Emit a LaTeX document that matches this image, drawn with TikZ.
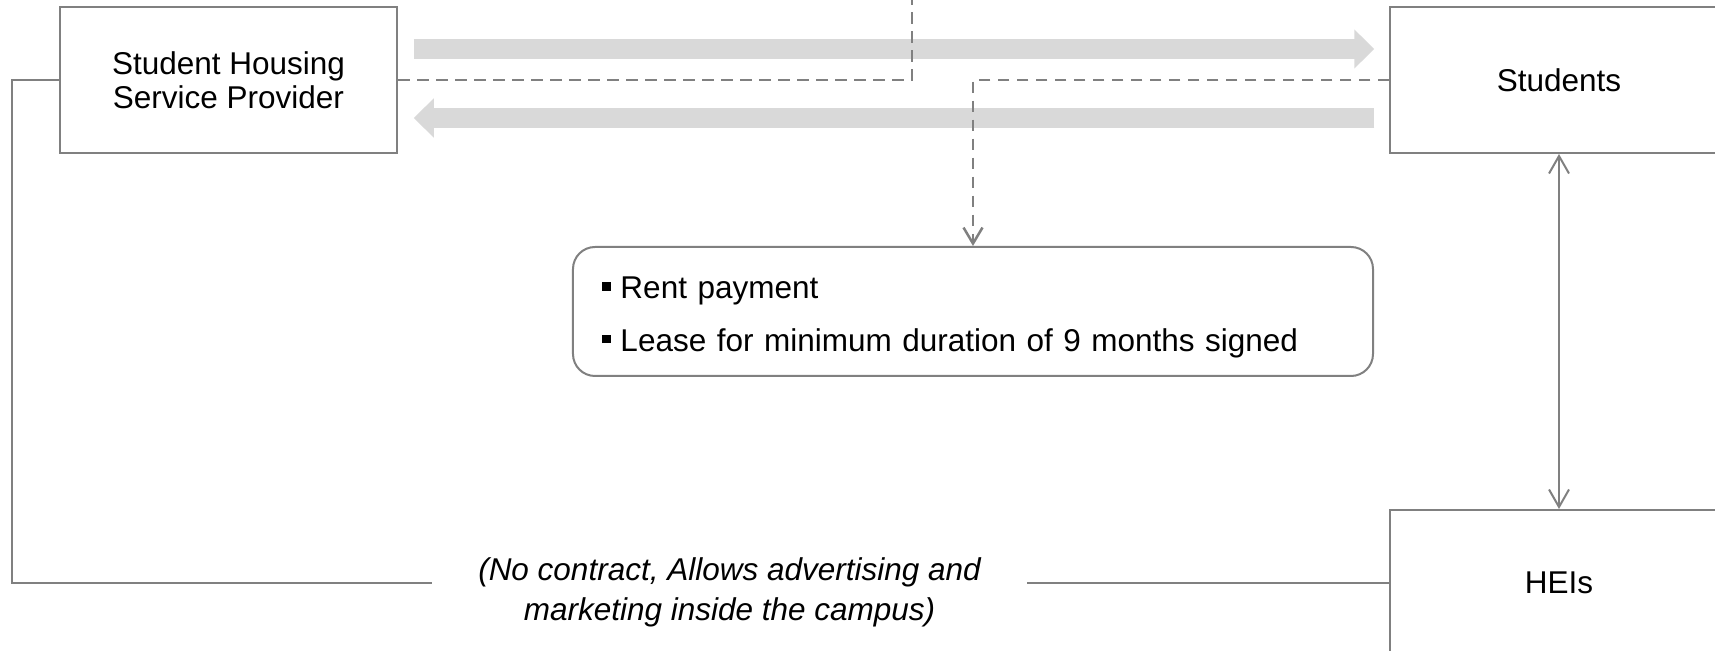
\documentclass[tikz,border=0pt]{standalone}
\usepackage{fontspec}
\setmainfont{Liberation Sans}
\usetikzlibrary{positioning,arrows.meta}

\newcommand{\bulsq}{\rule[3.2pt]{3.4pt}{3.4pt}\hspace{4pt}}

\begin{document}
\begin{tikzpicture}[
  x=0.4pt, y=-0.4pt,
  font=\fontsize{12.6}{13.6}\selectfont,
  party/.style={draw=gray, line width=0.8pt, align=center,
                minimum width=135pt, minimum height=58.4pt},
  flow/.style={draw=gray!30, line width=8pt,
               -{Triangle[length=8pt,width=15.2pt]}},
  link/.style={draw=gray, line width=1pt, dash pattern=on 4.6pt off 3pt},
  tie/.style={draw=gray, line width=0.8pt},
  barb/.tip={Straight Barb[length=7pt,width=8pt]}
]
\useasboundingbox (0,0) rectangle (1715,651);

\node[party] (shsp) at (228.5,80) {Student Housing\\Service Provider};
\node[party, right=396.4pt of shsp] (students) {Students};
\node[party, below=142pt of students] (heis) {HEIs};
\node[draw=gray, line width=0.8pt, rounded corners=8.8pt, align=left,
      text width=296.8pt, inner xsep=11.6pt, minimum height=51.6pt]
  (rent) at (973,311.5)
  {\rule{0pt}{13.4pt}\bulsq Rent payment\\[7.3pt]\bulsq Lease for minimum duration of 9 months signed};

% rent and lease flows
\draw[flow] ([xshift=6.2pt,yshift=12.4pt]shsp.east)
  -- ([xshift=-6pt,yshift=12.4pt]students.west);
\draw[flow] ([xshift=-6pt,yshift=-15.2pt]students.west)
  -- ([xshift=6.2pt,yshift=-15.2pt]shsp.east);

\coordinate (top) at (912,0);
\draw[link] (shsp.east) -| (top);
\draw[link, -{Straight Barb[length=6.4pt,width=7.6pt]}] (students.west) -| (rent.north);

\draw[tie, barb-barb] (students.south) -- (heis.north);

\draw[tie] (shsp.west) -- ++(-47,0) |- (heis.west);
\node[fill=white, font=\fontsize{12.6}{16}\selectfont\itshape, align=center,
      inner xsep=18.6pt] (note) at (729.5,592)
  {(No contract, Allows advertising and\\marketing inside the campus)};
\end{tikzpicture}
\end{document}
